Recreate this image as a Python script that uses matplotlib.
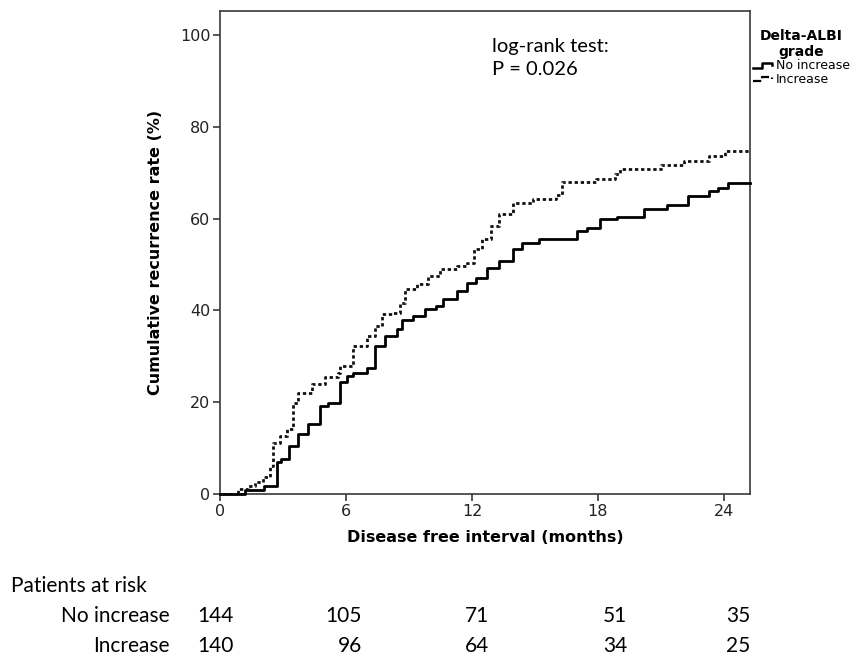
import matplotlib
matplotlib.use("Agg")
import matplotlib.pyplot as plt
from matplotlib.lines import Line2D
from matplotlib.legend_handler import HandlerBase

# Kaplan-Meier cumulative recurrence
months_no_inc = [0, 1.2, 2.1, 2.7, 2.9, 3.3, 3.7, 4.2, 4.76, 5.16, 5.71, 6.03, 6.35, 6.98,
                 7.38, 7.86, 8.41, 8.65, 9.2, 9.76, 10.3, 10.6, 11.27, 11.75, 12.2, 12.7,
                 13.3, 13.95, 14.4, 15.2, 17.0, 17.46, 18.1, 18.9, 20.2, 21.3, 22.3, 23.3,
                 23.7, 24.2]
rate_no_inc = [0, 0.9, 1.8, 7.0, 7.6, 10.5, 13.0, 15.2, 19.2, 19.9, 24.3, 25.7, 26.4, 27.5,
               32.2, 34.4, 35.9, 38.0, 38.8, 40.2, 40.9, 42.4, 44.2, 46.0, 47.1, 49.3,
               50.7, 53.3, 54.7, 55.6, 57.2, 58.0, 59.8, 60.4, 62.1, 63.0, 64.9, 65.9,
               66.7, 67.8]

months_inc = [0, 0.87, 1.35, 1.67, 2.06, 2.38, 2.54, 2.86, 3.17, 3.49, 3.73, 4.37, 5.0,
              5.6, 5.71, 6.35, 6.98, 7.4, 7.7, 8.25, 8.57, 8.8, 9.4, 9.9, 10.5, 11.3,
              11.75, 12.1, 12.5, 12.9, 13.3, 13.97, 14.9, 16.0, 16.27, 17.9, 18.8, 19.05,
              21.0, 22.1, 23.3, 24.05]
rate_inc = [0, 1.1, 1.8, 2.6, 3.7, 6.2, 11.2, 12.6, 14.1, 19.9, 22.1, 23.9, 25.4,
            26.4, 27.9, 32.2, 34.4, 36.6, 39.1, 39.5, 41.7, 44.6, 45.7, 47.5, 48.9, 49.6,
            50.4, 53.3, 55.5, 58.3, 60.9, 63.4, 64.3, 65.2, 67.9, 68.6, 69.6, 70.7,
            71.7, 72.5, 73.7, 74.8]

x_end = 25.24
x_ticks = [0, 6, 12, 18, 24]
y_ticks = [0, 20, 40, 60, 80, 100]

groups = ["No increase", "Increase"]
at_risk_no_inc = [144, 105, 71, 51, 35]
at_risk_inc = [140, 96, 64, 34, 25]


class StepHandler(HandlerBase):
    # SPSS-style little step in the legend
    def create_artists(self, legend, orig, xd, yd, width, height, fontsize, trans):
        x0, y0 = -xd, -yd
        xs = [x0, x0 + 0.45 * width, x0 + 0.45 * width, x0 + width, x0 + width]
        ys = [y0 + 0.2 * height, y0 + 0.2 * height, y0 + 0.75 * height,
              y0 + 0.75 * height, y0 + 0.5 * height]
        ln = Line2D(xs, ys, color=orig.get_color(), lw=orig.get_linewidth(),
                    ls=orig.get_linestyle())
        ln.set_transform(trans)
        return [ln]


fig = plt.figure(figsize=(8.65, 6.59), dpi=100)
ax = fig.add_axes([220 / 865, 165 / 659, 530 / 865, 483 / 659])

axis_col = "#3a3a3a"
dots = (0, (1.2, 1.0))
ax.step(months_no_inc + [x_end], rate_no_inc + [rate_no_inc[-1]], where="post",
        color="black", lw=2.0, clip_on=False, zorder=3)
ax.step(months_inc + [x_end], rate_inc + [rate_inc[-1]], where="post",
        color="#111111", lw=2.0, ls=dots, clip_on=False, zorder=3)

ax.set_xlim(0, x_end)
ax.set_ylim(0, 105.2)
ax.set_xticks(x_ticks)
ax.set_yticks(y_ticks)
ax.tick_params(axis="both", direction="out", length=5, width=1.2, color=axis_col,
               labelsize=11.5, labelcolor="#222222", pad=2)
for s in ax.spines.values():
    s.set_linewidth(1.2)
    s.set_color(axis_col)

ax.set_xlabel("Disease free interval (months)", fontsize=11.5, fontweight="bold",
              labelpad=8)
ax.set_ylabel("Cumulative recurrence rate (%)", fontsize=11.5, fontweight="bold",
              labelpad=12)

ax.text(0.513, 0.945, "log-rank test:\nP = 0.026", transform=ax.transAxes,
        ha="left", va="top", fontsize=14.5, family="Lato", linespacing=1.45)

handles = [Line2D([], [], color="black", lw=1.8),
           Line2D([], [], color="black", lw=1.6, ls=(0, (1.0, 1.0)))]
leg = ax.legend(handles, groups, title="Delta-ALBI\ngrade", loc="upper left",
                bbox_to_anchor=(1.0, 0.97), frameon=False, fontsize=9,
                handlelength=1.5, handletextpad=0.3, borderaxespad=0.15,
                labelspacing=0.05, borderpad=0.1,
                handler_map={Line2D: StepHandler()},
                title_fontproperties={"weight": "bold", "size": 10})
leg.get_title().set_multialignment("center")
leg._legend_box.align = "center"

# patients at risk table
fs = 15
fig.text(11 / 865, 1 - 586 / 659, "Patients at risk", ha="left", va="center",
         fontsize=fs, family="Lato")
col_right = [234, 362, 489, 627, 750]
for row_y, name, counts in [(616, groups[0], at_risk_no_inc),
                            (646, groups[1], at_risk_inc)]:
    fig.text(170 / 865, 1 - row_y / 659, name, ha="right", va="center",
             fontsize=fs, family="Lato")
    for xr, n in zip(col_right, counts):
        fig.text(xr / 865, 1 - row_y / 659, str(n), ha="right", va="center",
                 fontsize=fs, family="Lato")

fig.savefig("out.png", dpi=100, facecolor="white")
